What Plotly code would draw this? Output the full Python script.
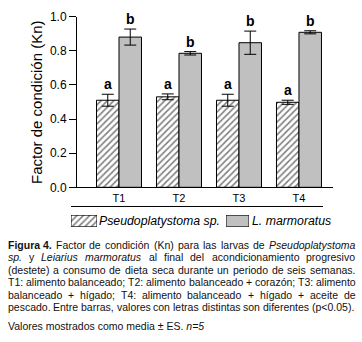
import plotly.graph_objects as go

# ---------------- data ----------------
categories = ["T1", "T2", "T3", "T4"]
series_names = ["Pseudoplatystoma sp.", "L. marmoratus"]
pseudo_mean = [0.51, 0.53, 0.51, 0.498]
pseudo_se = [0.035, 0.017, 0.035, 0.012]
lmar_mean = [0.88, 0.785, 0.847, 0.908]
lmar_se = [0.047, 0.010, 0.068, 0.009]
pseudo_letters = ["a", "a", "a", "a"]
lmar_letters = ["b", "b", "b", "b"]
y_ticks = [0.0, 0.2, 0.4, 0.6, 0.8, 1.0]
y_title = "Factor de condición (Kn)"

caption_lines = [
    [("Figura 4.", "b"), ("Factor", ""), ("de", ""), ("condición", ""), ("(Kn)", ""), ("para", ""),
     ("las", ""), ("larvas", ""), ("de", ""), ("Pseudoplatystoma", "i")],
    [("sp.", "i"), ("y", ""), ("Leiarius", "i"), ("marmoratus", "i"), ("al", ""), ("final", ""),
     ("del", ""), ("acondicionamiento", ""), ("progresivo", "")],
    [(w, "") for w in "(destete) a consumo de dieta seca durante un periodo de seis semanas.".split()],
    [(w, "") for w in "T1: alimento balanceado; T2: alimento balanceado + corazón; T3: alimento".split()],
    [(w, "") for w in "balanceado + hígado; T4: alimento balanceado + hígado + aceite de".split()],
    [(w, "") for w in "pescado. Entre barras, valores con letras distintas son diferentes (p<0.05).".split()],
]
caption_last = "Valores mostrados como media ± ES. <i>n=5</i>"

# ---------------- geometry / style ----------------
W, H = 362, 342
BAR_W = 0.375
FONT = "Liberation Sans, Arial, sans-serif"

def px(x):
    return x / W

def py(y):
    return 1 - y / H

fig = go.Figure()
xs = list(range(len(categories)))

HATCH = dict(shape="/", fgcolor="black", bgcolor="white", size=4.5, solidity=0.35)

fig.add_trace(go.Bar(
    x=xs, y=pseudo_mean, name=series_names[0], offset=-BAR_W, width=BAR_W,
    marker=dict(color="white", line=dict(color="black", width=1), pattern=HATCH),
    error_y=dict(type="data", array=pseudo_se, color="black", thickness=1, width=6),
    showlegend=False,
))
fig.add_trace(go.Bar(
    x=xs, y=lmar_mean, name=series_names[1], offset=0, width=BAR_W,
    marker=dict(color="#c0c0c0", line=dict(color="black", width=1)),
    error_y=dict(type="data", array=lmar_se, color="black", thickness=1, width=6),
    showlegend=False,
))

annotations = []
for i in xs:
    annotations.append(dict(x=i - BAR_W / 2, y=pseudo_mean[i] + pseudo_se[i], xref="x", yref="y",
                            text="<b>%s</b>" % pseudo_letters[i], showarrow=False, yanchor="bottom",
                            font=dict(size=14, color="black", family=FONT), yshift=0))
    annotations.append(dict(x=i + BAR_W / 2, y=lmar_mean[i] + lmar_se[i], xref="x", yref="y",
                            text="<b>%s</b>" % lmar_letters[i], showarrow=False, yanchor="bottom",
                            font=dict(size=14, color="black", family=FONT), yshift=0))

# y title
annotations.append(dict(x=px(37), y=py(100), xref="paper", yref="paper", text=y_title, textangle=-90,
                        showarrow=False, xanchor="center", yanchor="middle",
                        font=dict(size=15, color="black", family=FONT)))

# legend swatches on helper axes
fig.add_trace(go.Bar(x=[0], y=[1], width=1, xaxis="x2", yaxis="y2", showlegend=False, cliponaxis=False,
                     marker=dict(color="white", line=dict(color="black", width=1), pattern=HATCH),
                     hoverinfo="skip"))
fig.add_trace(go.Bar(x=[0], y=[1], width=1, xaxis="x3", yaxis="y3", showlegend=False, cliponaxis=False,
                     marker=dict(color="#c0c0c0", line=dict(color="black", width=1)), hoverinfo="skip"))
annotations.append(dict(x=px(99), y=py(223), xref="paper", yref="paper", text="<i>%s</i>" % series_names[0],
                        showarrow=False, xanchor="left", yanchor="middle", borderpad=0, borderwidth=0,
                        font=dict(size=12.3, color="black", family=FONT)))
annotations.append(dict(x=px(252), y=py(223), xref="paper", yref="paper", text="<i>%s</i>" % series_names[1],
                        showarrow=False, xanchor="left", yanchor="middle", borderpad=0, borderwidth=0,
                        font=dict(size=12.3, color="black", family=FONT)))

# ---------------- caption (justified) ----------------
AW = {' ': 278, '!': 278, '(': 333, ')': 333, '+': 584, ',': 278, '-': 333, '.': 278, '/': 278,
      ':': 278, ';': 278, '<': 584, '=': 584, '>': 584, '±': 549,
      'A': 667, 'B': 667, 'C': 722, 'D': 722, 'E': 667, 'F': 611, 'G': 778, 'H': 722, 'I': 278,
      'J': 500, 'K': 667, 'L': 556, 'M': 833, 'N': 722, 'O': 778, 'P': 667, 'Q': 778, 'R': 722,
      'S': 667, 'T': 611, 'U': 722, 'V': 667, 'W': 944, 'X': 667, 'Y': 667, 'Z': 611,
      'a': 556, 'b': 556, 'c': 500, 'd': 556, 'e': 556, 'f': 278, 'g': 556, 'h': 556, 'i': 222,
      'j': 222, 'k': 500, 'l': 222, 'm': 833, 'n': 556, 'o': 556, 'p': 556, 'q': 556, 'r': 333,
      's': 500, 't': 278, 'u': 556, 'v': 500, 'w': 722, 'x': 500, 'y': 500, 'z': 500,
      'á': 556, 'é': 556, 'í': 278, 'ó': 556, 'ú': 556}
for d in "0123456789":
    AW[d] = 556
BW = dict(AW)
BW.update({'g': 611, 'u': 611, 'r': 389, 'i': 278})

CAP_SIZE = 10.5
CAP_LEFT, CAP_RIGHT = 7.5, 355.5
CAP_Y0, CAP_DY = 248, 13

def wwidth(word, style):
    tbl = BW if style == "b" else AW
    return sum(tbl.get(c, 556) for c in word) * CAP_SIZE / 1000.0

def styled(word, style):
    if style == "b":
        return "<b>%s</b>" % word
    if style == "i":
        return "<i>%s</i>" % word
    return word

for li, line in enumerate(caption_lines):
    widths = [wwidth(w, s) for w, s in line]
    total = sum(widths)
    justify = li < len(caption_lines) - 1
    gap = (CAP_RIGHT - CAP_LEFT - total) / (len(line) - 1) if justify else AW[' '] * CAP_SIZE / 1000.0
    xcur = CAP_LEFT
    yline = CAP_Y0 + li * CAP_DY
    for (w, s), wd in zip(line, widths):
        annotations.append(dict(x=px(xcur), y=py(yline), xref="paper", yref="paper", text=styled(w, s),
                                showarrow=False, xanchor="left", yanchor="middle", borderpad=0, borderwidth=0,
                                font=dict(size=CAP_SIZE, color="#111111", family=FONT)))
        xcur += wd + gap

annotations.append(dict(x=px(CAP_LEFT), y=py(333), xref="paper", yref="paper", text=caption_last,
                        showarrow=False, xanchor="left", yanchor="middle", borderpad=0, borderwidth=0,
                        font=dict(size=CAP_SIZE, color="#111111", family=FONT)))

shapes = [dict(type="line", xref="paper", yref="paper", x0=px(71), x1=px(323), y0=py(208), y1=py(208),
               line=dict(color="black", width=1))]

fig.update_layout(
    width=W, height=H, margin=dict(l=0, r=0, t=0, b=0),
    paper_bgcolor="white", plot_bgcolor="white",
    font=dict(family=FONT, color="black"),
    barmode="overlay",
    xaxis=dict(domain=[px(77), px(333)], range=[-0.7, 3.567], tickvals=xs, ticktext=categories,
               showline=True, linecolor="black", linewidth=1, ticks="", showgrid=False, zeroline=False,
               tickfont=dict(size=11, color="black", family=FONT), fixedrange=True),
    yaxis=dict(domain=[py(188), py(10)], range=[0, 1.0], tickvals=y_ticks, tickformat=".1f",
               showline=True, linecolor="black", linewidth=1, ticks="outside", ticklen=7, tickcolor="black",
               showgrid=False, zeroline=False, tickfont=dict(size=12, color="black", family=FONT),
               fixedrange=True),
    xaxis2=dict(domain=[px(71), px(97)], range=[-0.5, 0.5], visible=False, anchor="y2"),
    yaxis2=dict(domain=[py(229), py(217)], range=[0, 1], visible=False, anchor="x2"),
    xaxis3=dict(domain=[px(226), px(249)], range=[-0.5, 0.5], visible=False, anchor="y3"),
    yaxis3=dict(domain=[py(229), py(217)], range=[0, 1], visible=False, anchor="x3"),
    annotations=annotations, shapes=shapes,
)

fig.write_html("out.html", config={"displayModeBar": False},
               post_script="document.body.style.margin='0';document.body.style.overflow='hidden';")
